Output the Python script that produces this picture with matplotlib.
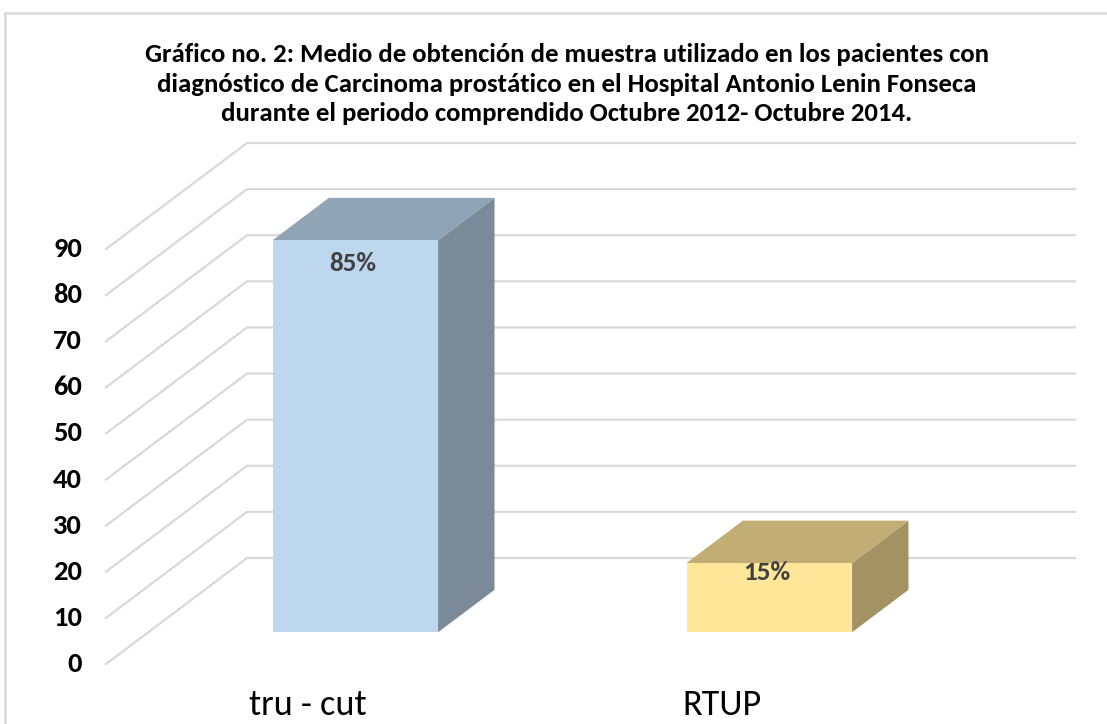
import matplotlib
matplotlib.use("Agg")
import matplotlib.pyplot as plt
from matplotlib.patches import Polygon
from matplotlib import font_manager

# data
categories = ["tru - cut", "RTUP"]
values = [85, 15]
value_labels = ["85%", "15%"]
yticks = [0, 10, 20, 30, 40, 50, 60, 70, 80, 90]

front_colors = ["#BDD7EE", "#FFE699"]
top_colors = ["#8FA4B5", "#C2AE74"]
side_colors = ["#7A8A98", "#A39362"]

title = ("Gráfico no. 2: Medio de obtención de muestra utilizado en los pacientes con\n"
         "diagnóstico de Carcinoma prostático en el Hospital Antonio Lenin Fonseca\n"
         "durante el periodo comprendido Octubre 2012- Octubre 2014.")

names = {f.name for f in font_manager.fontManager.ttflist}
fam = [n for n in ["Carlito", "Liberation Sans Narrow", "Liberation Sans"] if n in names] + ["DejaVu Sans"]
plt.rcParams['font.family'] = fam

W, H = 1107, 724
fig = plt.figure(figsize=(W / 100, H / 100), dpi=100)
ax = fig.add_axes([0, 0, 1, 1])
ax.set_axis_off()

# pixel geometry of the excel 3d chart
px_cat = 414.0
cat0_px = 313.0
px_val = 4.611
zero_px = 60.0
ax.set_xlim(-cat0_px / px_cat, (W - cat0_px) / px_cat)
ax.set_ylim(-zero_px / px_val, (H - zero_px) / px_val)

DX = 141 / px_cat   # full depth offset in data units
DY = 106 / px_val

def proj(x, y, d):
    return (x + d * DX, y + d * DY)

x_left = -0.5
x_right = len(categories) - 0.5
grid_c = "#D9D9D9"

# walls / gridlines
for v in yticks:
    pts = [proj(x_left, v, 0), proj(x_left, v, 1), proj(x_right, v, 1)]
    ax.plot([p[0] for p in pts], [p[1] for p in pts], color=grid_c, lw=1.6, zorder=1,
            solid_joinstyle='miter')
    ax.text(x_left - 0.058, v, str(v), ha='right', va='center', fontsize=20.5,
            fontweight='bold', color='black')

# bars
bw = 0.4
f0, f1 = 0.30, 0.70
label_off = [-16.5, -6.5]  # points below bar top
for i, v in enumerate(values):
    l, r = i - bw / 2, i + bw / 2
    front = [proj(l, 0, f0), proj(r, 0, f0), proj(r, v, f0), proj(l, v, f0)]
    top = [proj(l, v, f0), proj(r, v, f0), proj(r, v, f1), proj(l, v, f1)]
    side = [proj(r, 0, f0), proj(r, 0, f1), proj(r, v, f1), proj(r, v, f0)]
    ax.add_patch(Polygon(side, closed=True, fc=side_colors[i], ec='none', zorder=3))
    ax.add_patch(Polygon(top, closed=True, fc=top_colors[i], ec='none', zorder=3))
    ax.add_patch(Polygon(front, closed=True, fc=front_colors[i], ec='none', zorder=4))
    cx, cy = proj(i, v, f0)
    ax.annotate(value_labels[i], (cx - 0.005, cy), xytext=(0, label_off[i]),
                textcoords='offset points', ha='center', va='center', fontsize=19.5,
                fontweight='bold', color='#404040', zorder=5)

# category labels
for i, c in enumerate(categories):
    ax.text(i - 0.013, -8.9, c, ha='center', va='center', fontsize=26, color='black')

fig.text(567 / W, 1 - 84 / H, title, ha='center', va='center', fontsize=19.3,
         fontweight='bold', linespacing=1.33)

# chart area border (top and left edges visible)
fig.add_artist(plt.Line2D([5 / W, 1], [1 - 13 / H, 1 - 13 / H], color=grid_c, lw=1.8,
                          transform=fig.transFigure))
fig.add_artist(plt.Line2D([5 / W, 5 / W], [0, 1 - 13 / H], color=grid_c, lw=1.8,
                          transform=fig.transFigure))

fig.savefig("out.png", dpi=100, facecolor='white')
